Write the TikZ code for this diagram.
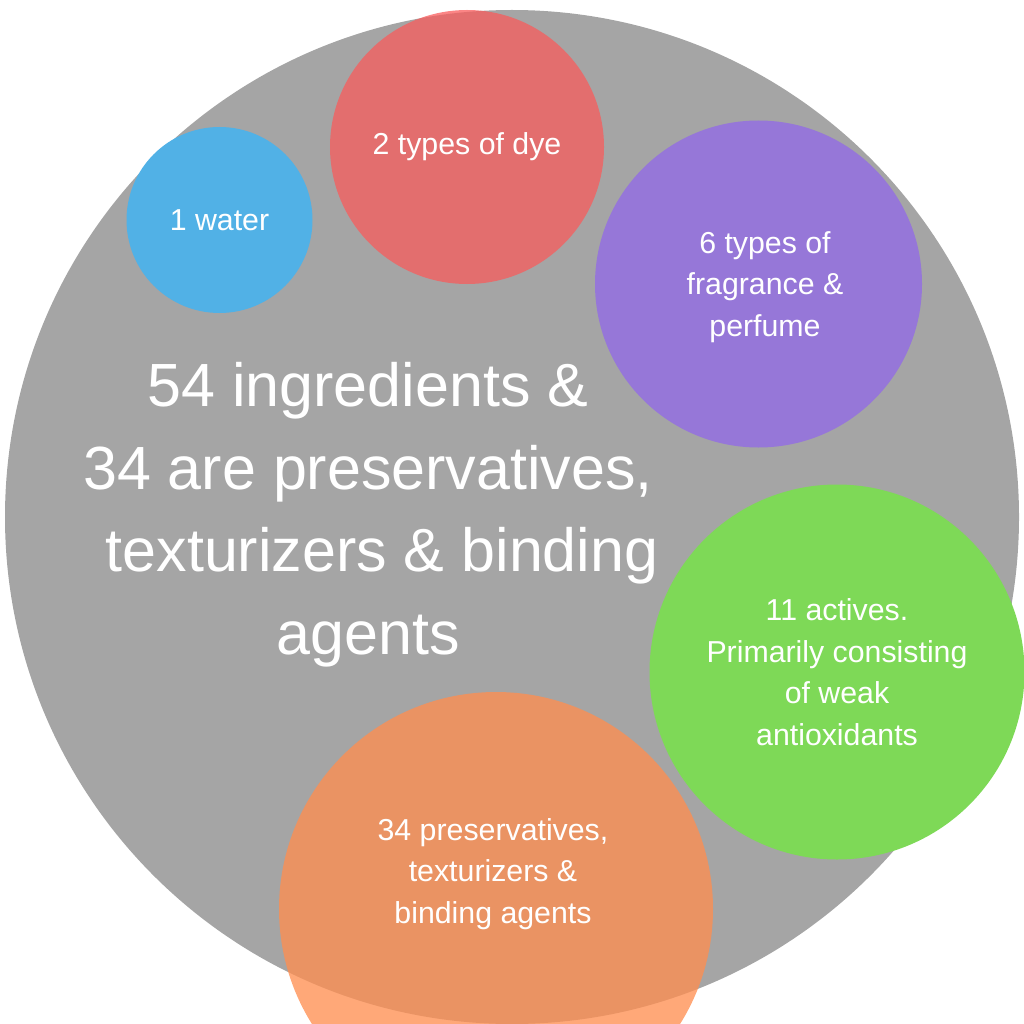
\documentclass[tikz,border=0pt]{standalone}
\usepackage{fontspec}
\setmainfont{Liberation Sans}
\definecolor{cgray}{HTML}{A5A5A5}
\definecolor{cblue}{HTML}{51B1E6}
\definecolor{cred}{RGB}{249,92,92}
\definecolor{cpurple}{HTML}{9677D8}
\definecolor{cgreen}{HTML}{7ED957}
\definecolor{corange}{RGB}{255,142,80}
\begin{document}
\begin{tikzpicture}[x=1pt,y=-1pt,
  bubble/.style={circle, inner sep=0pt, draw=none, text=white, align=center,
    font=\fontsize{30.3}{41.5}\selectfont},
  lbl/.style={text=white, align=center, inner sep=0pt, font=\fontsize{30.3}{41.8}\selectfont}]
\useasboundingbox (0,0) rectangle (1024,1024);
\clip (0,0) rectangle (1024,1024);
\node[circle, fill=cgray, minimum size=1014pt, inner sep=0pt] (all) at (512,517) {};
\node[bubble, fill=cblue, minimum size=186pt] (water) at (219.5,220) {1 water};
\node[bubble, fill=cred, fill opacity=0.75, text opacity=1, minimum size=274pt] (dye) at (467,147) {2 types of dye};
\node[bubble, fill=cpurple, minimum size=327pt] (frag) at (758.5,284) {};
\node[lbl] (fragtext) at (765,287) {6 types of\\fragrance \&\\perfume};
\node[bubble, fill=cgreen, minimum size=375pt] (act) at (837,672) {11 actives.\\Primarily consisting\\of weak\\antioxidants};
\node[bubble, fill=corange, fill opacity=0.77, minimum size=434pt] (pres) at (496,909) {};
\node[lbl] (prestext) at (493,874) {34 preservatives,\\texturizers \&\\binding agents};
\node[text=white, align=center, inner sep=0pt, font=\fontsize{61}{82.5}\selectfont] (main) at (368,514.5)
  {54 ingredients \&\\34 are preservatives,\\\hspace*{28pt}texturizers \& binding\\agents};
\end{tikzpicture}
\end{document}
